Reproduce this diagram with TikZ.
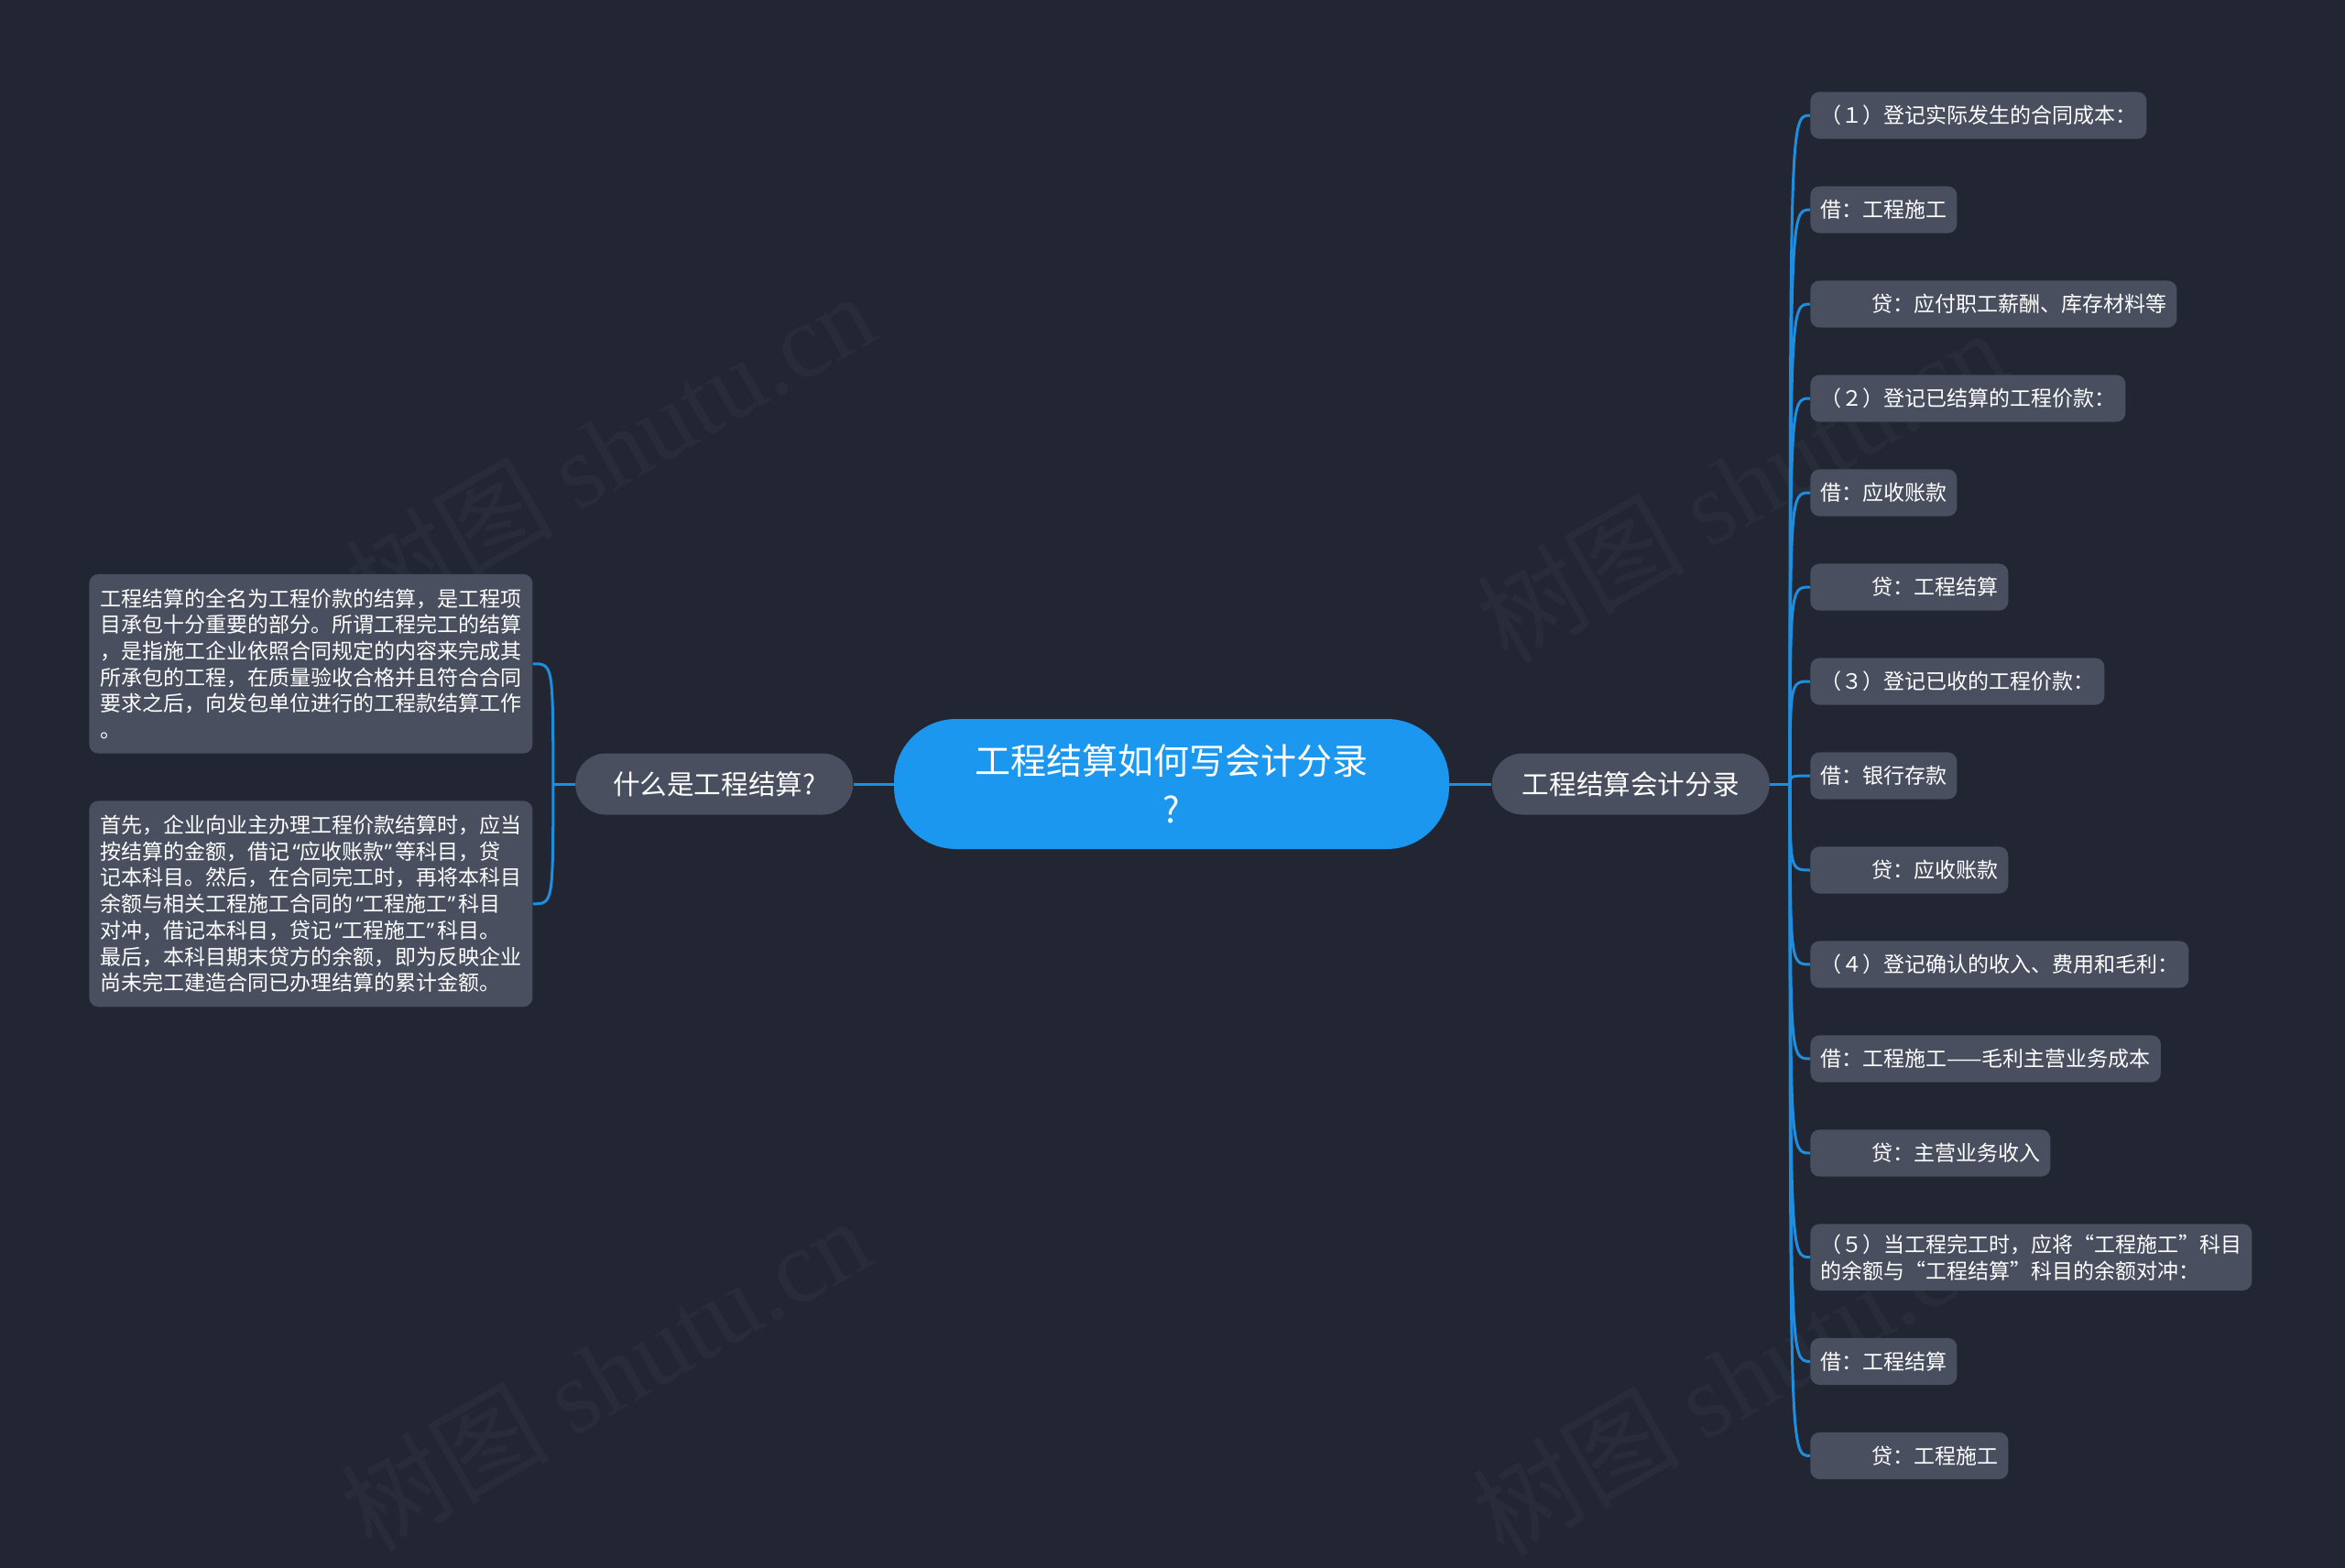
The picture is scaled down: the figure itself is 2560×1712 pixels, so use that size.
\documentclass[tikz,border=0pt]{standalone}
\usepackage{fontspec}
\setmainfont{Noto Sans CJK SC}
\newfontfamily\wmlatin{Liberation Serif}
\newfontfamily\quotefont{Noto Sans}
\usepackage{xcolor}
\usetikzlibrary{positioning}

\definecolor{bgdark}{HTML}{222633}
\definecolor{topicgrey}{HTML}{494F5F}
\definecolor{rootblue}{HTML}{1B97EF}
\definecolor{linkblue}{HTML}{1E8FE0}

\newcommand{\creditpad}{\hspace*{28pt}}
\newcommand{\openq}{\makebox[0.5em][r]{\quotefont “}}
\newcommand{\closeq}{\makebox[0.5em][l]{\quotefont ”}}

\begin{document}
\begin{tikzpicture}[
    x=0.5pt, y=-0.5pt,
    node distance=25.5pt,
    root/.style={rectangle, fill=rootblue, text=white, rounded corners=34pt, minimum width=303pt, minimum height=71pt, align=center, font=\fontsize{19.5}{26.5}\selectfont},
    topic/.style={rectangle, fill=topicgrey, text=white, rounded corners=16.7pt, minimum width=151.5pt, minimum height=33.5pt, font=\fontsize{14.8}{18}\selectfont},
    note/.style={rectangle, fill=topicgrey, text=white, rounded corners=5pt, align=left, inner xsep=6pt, inner ysep=7.8pt, font=\fontsize{11.5}{14.35}\selectfont},
    entry/.style={rectangle, fill=topicgrey, text=white, rounded corners=5pt, align=left, inner xsep=5.5pt, inner ysep=5.5pt, minimum height=25.6pt, font=\fontsize{11.5}{14.5}\selectfont},
    link/.style={draw, linkblue, line width=1.5pt},
    wmtext/.style={text=white, text opacity=0.03, rotate=30, anchor=base west, font=\fontsize{57}{57}\selectfont},
]
\useasboundingbox (0,0) rectangle (2560,1712);
\fill [bgdark] (0,0) rectangle (2560,1712);

% watermarks
\node [wmtext] (wm1) at (405,690) {树图 {\wmlatin shutu.cn}};
\node [wmtext] (wm2) at (400,1700) {树图 {\wmlatin shutu.cn}};
\node [wmtext] (wm3) at (1640,730) {树图 {\wmlatin shutu.cn}};
\node [wmtext] (wm4) at (1635,1705) {树图 {\wmlatin shutu.cn}};

% centre and main topics
\node [root] (root) at (1279,856) {工程结算如何写会计分录\\?};
\node [topic, left=22pt of root] (what) {什么是工程结算?};
\node [topic, right=23pt of root] (entries) {工程结算会计分录};

% left side
\node [note, anchor=south east] (def) at ([xshift=-23pt, yshift=16.5pt]what.west) {工程结算的全名为工程价款的结算，是工程项\\目承包十分重要的部分。所谓工程完工的结算\\，是指施工企业依照合同规定的内容来完成其\\所承包的工程，在质量验收合格并且符合合同\\要求之后，向发包单位进行的工程款结算工作\\。};
\node [note, below=25.5pt of def.south east, anchor=north east] (how) {首先，企业向业主办理工程价款结算时，应当\\按结算的金额，借记\openq 应收账款\closeq 等科目，贷\\记本科目。然后，在合同完工时，再将本科目\\余额与相关工程施工合同的\openq 工程施工\closeq 科目\\对冲，借记本科目，贷记\openq 工程施工\closeq 科目。\\最后，本科目期末贷方的余额，即为反映企业\\尚未完工建造合同已办理结算的累计金额。};

% right side
\node [entry, anchor=north west] (e1) at (1976,100) {（１）登记实际发生的合同成本：};
\node [entry, below=of e1.south west, anchor=north west] (e2) {借：工程施工};
\node [entry, below=of e2.south west, anchor=north west] (e3) {\creditpad 贷：应付职工薪酬、库存材料等};
\node [entry, below=of e3.south west, anchor=north west] (e4) {（２）登记已结算的工程价款：};
\node [entry, below=of e4.south west, anchor=north west] (e5) {借：应收账款};
\node [entry, below=of e5.south west, anchor=north west] (e6) {\creditpad 贷：工程结算};
\node [entry, below=of e6.south west, anchor=north west] (e7) {（３）登记已收的工程价款：};
\node [entry, below=of e7.south west, anchor=north west] (e8) {借：银行存款};
\node [entry, below=of e8.south west, anchor=north west] (e9) {\creditpad 贷：应收账款};
\node [entry, below=of e9.south west, anchor=north west] (e10) {（４）登记确认的收入、费用和毛利：};
\node [entry, below=of e10.south west, anchor=north west] (e11) {借：工程施工——毛利主营业务成本};
\node [entry, below=of e11.south west, anchor=north west] (e12) {\creditpad 贷：主营业务收入};
\node [entry, below=of e12.south west, anchor=north west] (e13) {（５）当工程完工时，应将“工程施工”科目\\的余额与“工程结算”科目的余额对冲：};
\node [entry, below=of e13.south west, anchor=north west] (e14) {借：工程结算};
\node [entry, below=of e14.south west, anchor=north west] (e15) {\creditpad 贷：工程施工};

% connectors
\coordinate [left=12pt of what.west] (lhub);
\coordinate [right=11pt of entries.east] (rhub);

\path [link] (root) -- (what);
\path [link] (root) -- (entries);
\path [link] (what.west) -- (lhub);
\path [link] (entries.east) -- (rhub);

\path [link] (lhub) .. controls (lhub |- def.east) and (lhub |- def.east) .. (def.east);
\path [link] (lhub) .. controls (lhub |- how.east) and (lhub |- how.east) .. (how.east);

\path [link] (rhub) .. controls (rhub |- e1.west) and (rhub |- e1.west) .. (e1.west);
\path [link] (rhub) .. controls (rhub |- e2.west) and (rhub |- e2.west) .. (e2.west);
\path [link] (rhub) .. controls (rhub |- e3.west) and (rhub |- e3.west) .. (e3.west);
\path [link] (rhub) .. controls (rhub |- e4.west) and (rhub |- e4.west) .. (e4.west);
\path [link] (rhub) .. controls (rhub |- e5.west) and (rhub |- e5.west) .. (e5.west);
\path [link] (rhub) .. controls (rhub |- e6.west) and (rhub |- e6.west) .. (e6.west);
\path [link] (rhub) .. controls (rhub |- e7.west) and (rhub |- e7.west) .. (e7.west);
\path [link] (rhub) .. controls (rhub |- e8.west) and (rhub |- e8.west) .. (e8.west);
\path [link] (rhub) .. controls (rhub |- e9.west) and (rhub |- e9.west) .. (e9.west);
\path [link] (rhub) .. controls (rhub |- e10.west) and (rhub |- e10.west) .. (e10.west);
\path [link] (rhub) .. controls (rhub |- e11.west) and (rhub |- e11.west) .. (e11.west);
\path [link] (rhub) .. controls (rhub |- e12.west) and (rhub |- e12.west) .. (e12.west);
\path [link] (rhub) .. controls (rhub |- e13.west) and (rhub |- e13.west) .. (e13.west);
\path [link] (rhub) .. controls (rhub |- e14.west) and (rhub |- e14.west) .. (e14.west);
\path [link] (rhub) .. controls (rhub |- e15.west) and (rhub |- e15.west) .. (e15.west);
\end{tikzpicture}
\end{document}
